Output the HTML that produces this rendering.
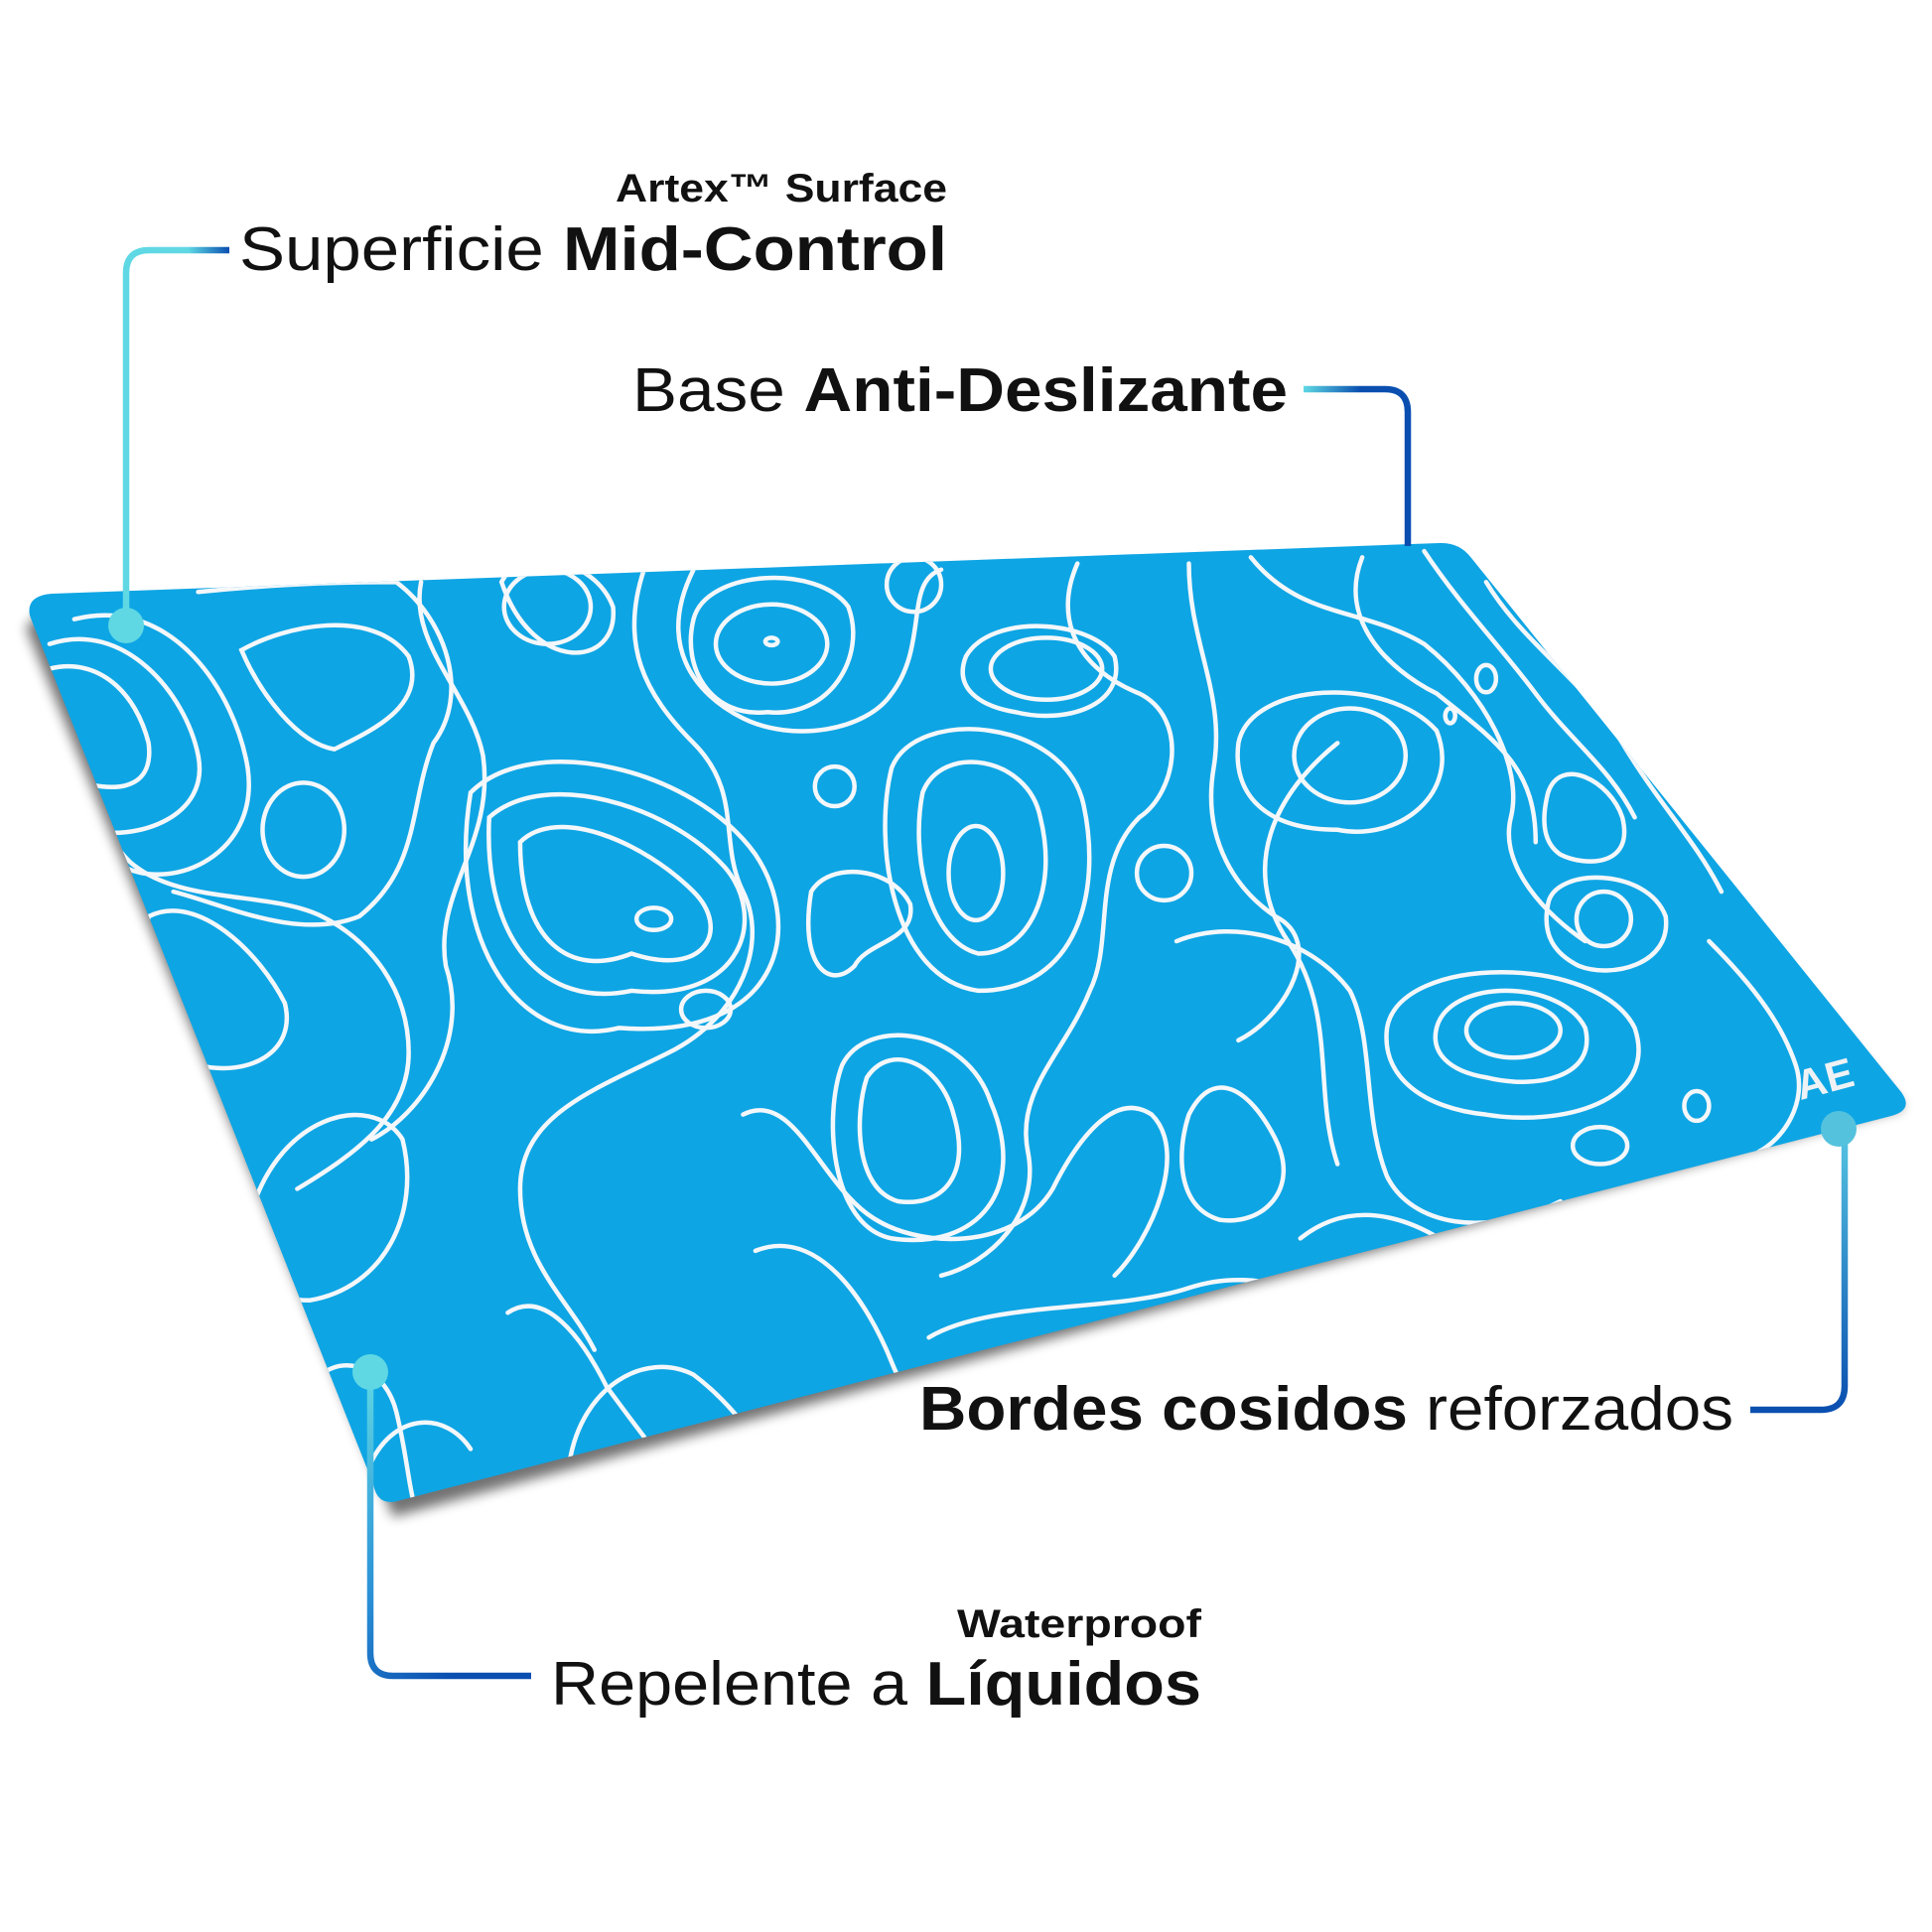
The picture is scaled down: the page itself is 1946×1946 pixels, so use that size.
<!DOCTYPE html>
<html><head><meta charset="utf-8"><style>
html,body{margin:0;padding:0;background:#fff;}
svg{display:block;}
text{font-family:"Liberation Sans",sans-serif;fill:#111;}
</style></head><body>
<svg width="1946" height="1946" viewBox="0 0 1946 1946" xmlns="http://www.w3.org/2000/svg">
<defs>
<linearGradient id="g1" x1="0" y1="1" x2="1" y2="0"><stop offset="0" stop-color="#5fd8e4"/><stop offset="0.8" stop-color="#5fd8e4"/><stop offset="1" stop-color="#0a4fb0"/></linearGradient>
<linearGradient id="g2" x1="0" y1="0" x2="1" y2="0.3"><stop offset="0" stop-color="#5fd8e4"/><stop offset="0.5" stop-color="#0a4fb0"/><stop offset="1" stop-color="#0a4fb0"/></linearGradient>
<linearGradient id="g3" x1="0" y1="0" x2="0" y2="1"><stop offset="0" stop-color="#55c6e2"/><stop offset="1" stop-color="#0a4fb0"/></linearGradient>
<linearGradient id="g4" x1="0" y1="0" x2="0.5" y2="1"><stop offset="0" stop-color="#5fd8e4"/><stop offset="0.6" stop-color="#2a8fd6"/><stop offset="1" stop-color="#0a4fb0"/></linearGradient>
<clipPath id="mat"><path d="M52,598 L1450,547 Q1470,546 1482,562 L1915,1100 Q1928,1118 1905,1124 L400,1512 Q380,1517 376,1495 L30,620 Q26,600 52,598Z"/></clipPath>
<filter id="sh" x="-5%" y="-5%" width="110%" height="115%"><feGaussianBlur stdDeviation="6"/></filter>
</defs>
<!-- shadow -->
<path d="M52,604 L1450,553 L1922,1110 L400,1522 L30,626Z" fill="#000" opacity="0.55" filter="url(#sh)" transform="translate(-4,6)"/>
<path d="M52,598 L1450,547 Q1470,546 1482,562 L1915,1100 Q1928,1118 1905,1124 L400,1512 Q380,1517 376,1495 L30,620 Q26,600 52,598Z" fill="#0ea5e4"/>
<g clip-path="url(#mat)" fill="none" stroke="#f4f7fa" stroke-width="3.6" stroke-linecap="round">
<g transform="scale(1.2474)">
<path d="M195,525 C230,505 300,490 330,530 C345,570 300,590 270,605 C240,600 210,560 195,525Z"/>
<ellipse cx="245" cy="670" rx="33" ry="38"/>
<path d="M420,680 C450,650 520,680 560,720 C590,750 570,790 510,770 C460,790 420,760 420,680Z"/>
<path d="M395,660 C440,620 540,650 585,700 C620,740 600,810 510,800 C440,815 390,760 395,660Z"/>
<path d="M380,640 C430,590 560,620 610,690 C650,750 630,840 500,830 C420,850 360,760 380,640Z"/>
<ellipse cx="528" cy="742" rx="14" ry="9"/>
<ellipse cx="442" cy="490" rx="35" ry="30"/>
<path d="M405,470 C420,440 480,450 495,490 C500,540 430,545 405,470Z"/>
<ellipse cx="623" cy="518" rx="5" ry="3"/>
<ellipse cx="623" cy="520" rx="45" ry="32"/>
<path d="M560,500 C570,460 660,455 685,490 C700,530 670,580 620,575 C575,580 550,540 560,500Z"/>
<circle cx="738" cy="472" r="22"/>
<ellipse cx="845" cy="540" rx="45" ry="25"/>
<path d="M780,530 C800,495 880,500 900,530 C910,570 860,585 820,575 C790,570 770,555 780,530Z"/>
<ellipse cx="1090" cy="610" rx="45" ry="38"/>
<path d="M1000,600 C1010,550 1120,545 1160,590 C1180,640 1130,680 1080,670 C1020,670 995,640 1000,600Z"/>
<ellipse cx="788" cy="705" rx="22" ry="38"/>
<path d="M745,640 C760,600 830,610 840,660 C855,720 830,770 790,770 C750,760 735,690 745,640Z"/>
<path d="M720,620 C740,570 860,580 875,650 C890,720 870,800 790,800 C720,790 705,680 720,620Z"/>
<circle cx="674" cy="635" r="16"/>
<path d="M655,720 C670,695 720,700 735,730 C740,760 700,760 690,780 C670,800 645,780 655,720Z"/>
<circle cx="940" cy="705" r="22"/>
<path d="M700,870 C720,840 760,860 770,900 C785,950 760,975 725,970 C690,960 690,900 700,870Z"/>
<path d="M680,860 C700,820 780,830 800,890 C830,960 790,1010 720,1000 C670,990 665,900 680,860Z"/>
<path d="M960,900 C980,860 1010,880 1030,920 C1050,960 1020,990 985,985 C950,975 950,930 960,900Z"/>
<ellipse cx="1222" cy="832" rx="38" ry="22"/>
<path d="M1160,830 C1170,790 1260,790 1280,830 C1290,870 1240,880 1200,870 C1170,865 1155,850 1160,830Z"/>
<path d="M1120,830 C1130,770 1290,770 1320,830 C1340,890 1260,910 1200,900 C1150,895 1115,870 1120,830Z"/>
<circle cx="1295" cy="742" r="22"/>
<path d="M1250,730 C1255,700 1330,700 1345,740 C1350,780 1300,790 1275,780 C1255,770 1245,755 1250,730Z"/>
<path d="M1250,640 C1260,610 1300,630 1310,660 C1320,700 1280,700 1260,690 C1245,680 1245,660 1250,640Z"/>
<ellipse cx="570" cy="815" rx="20" ry="15"/>
<ellipse cx="1292" cy="925" rx="22" ry="15"/>
<ellipse cx="1370" cy="893" rx="10" ry="12"/>
<ellipse cx="1200" cy="548" rx="8" ry="11"/>
<ellipse cx="1171" cy="578" rx="4" ry="6"/>
<path d="M200,990 C220,900 300,880 325,920 C340,980 310,1040 250,1050 C205,1050 195,1020 200,990Z"/>
<path d="M120,740 C160,720 210,770 230,810 C240,850 200,870 160,860 C120,850 110,780 120,740Z"/>
<path d="M40,540 C80,530 110,560 120,600 C125,640 90,640 60,630"/>
<path d="M40,520 C100,500 150,560 160,610 C170,660 110,680 70,670"/>
<path d="M60,500 C140,480 190,560 200,620 C210,690 140,720 100,700"/>
<path d="M160,478 C240,470 290,470 320,470 C360,500 380,560 350,600 C330,650 340,700 290,740 C240,760 180,730 140,720"/>
<path d="M340,470 C330,520 380,560 390,610 C400,680 350,720 360,780 C380,840 340,900 300,920"/>
<path d="M520,460 C500,520 520,560 560,600 C600,640 580,680 600,720 C620,760 600,820 540,850 C480,880 420,900 420,960 C420,1020 460,1050 480,1090"/>
<path d="M560,460 C530,520 560,560 600,580 C640,600 700,590 720,560 C750,520 730,470 760,460"/>
<path d="M870,455 C850,500 870,540 920,560 C960,580 950,640 920,660 C880,700 900,760 880,800 C860,850 820,880 830,930 C840,980 800,1020 760,1030"/>
<path d="M960,455 C960,520 990,560 980,620 C970,680 1000,720 1030,740 C1070,760 1040,820 1000,840"/>
<path d="M1010,450 C1050,500 1100,490 1150,520 C1200,560 1230,620 1220,660 C1210,700 1250,740 1280,760"/>
<path d="M1100,450 C1080,500 1120,540 1160,560 C1210,600 1240,620 1240,680"/>
<path d="M1150,445 C1180,490 1210,520 1240,560 C1270,600 1300,620 1320,660"/>
<path d="M1200,470 C1230,520 1280,550 1310,600 C1340,650 1370,680 1390,720"/>
<path d="M950,760 C1000,740 1060,760 1090,800 C1110,840 1100,900 1120,950 C1140,990 1200,1000 1260,970"/>
<path d="M600,900 C640,880 660,950 700,980 C740,1010 820,1010 850,960 C870,920 900,880 930,900 C960,930 930,1000 900,1030"/>
<path d="M610,1010 C660,990 700,1050 720,1100 C740,1150 780,1180 820,1180"/>
<path d="M410,1060 C440,1040 470,1080 490,1120 C520,1160 540,1190 560,1200"/>
<path d="M460,1180 C470,1120 520,1090 560,1110 C600,1140 620,1180 640,1200"/>
<path d="M250,1120 C270,1090 310,1100 320,1140 C330,1180 330,1210 340,1230"/>
<path d="M200,1000 C150,1050 160,1100 200,1130"/>
<path d="M30,560 C60,600 80,680 110,700 C150,730 220,720 260,740 C300,760 330,800 330,850 C330,900 290,930 240,960"/>
<path d="M750,1080 C800,1050 900,1060 960,1040 C1020,1020 1080,1050 1100,1080"/>
<path d="M1050,1000 C1100,960 1160,990 1200,1030 C1240,1060 1300,1040 1320,1020"/>
<path d="M1380,760 C1420,800 1440,830 1450,860 C1460,890 1440,920 1420,930"/>
<path d="M1260,980 C1290,960 1330,970 1350,990"/>
<path d="M1080,600 C1030,640 1000,700 1040,760 C1080,820 1060,880 1080,940"/>
<path d="M300,1180 C320,1140 360,1140 380,1170"/>
</g>
</g>
<!-- AE logo -->
<text x="1808" y="1103" font-size="42" font-weight="bold" fill="#eef2f5" style="fill:#eef2f5" transform="rotate(-15 1830 1085)">AE</text>
<!-- connectors -->
<g fill="none" stroke-width="6.5">
<path d="M231,252 L150,252 Q127,252 127,275 L127,628" stroke="url(#g1)"/>
<path d="M1313,392 L1395,392 Q1418,392 1418,415 L1418,550" stroke="url(#g2)"/>
<path d="M1858,1137 L1858,1396 Q1858,1420 1834,1420 L1763,1420" stroke="url(#g3)"/>
<path d="M373,1382 L373,1665 Q373,1688 396,1688 L535,1688" stroke="url(#g4)"/>
</g>
<circle cx="127" cy="630" r="18" fill="#5fd8e4"/>
<circle cx="1852" cy="1137" r="18" fill="#55c2dd"/>
<circle cx="373" cy="1382" r="18" fill="#5fd8e4"/>
<!-- labels -->
<text x="620" y="203" font-size="40" font-weight="bold" textLength="334" lengthAdjust="spacingAndGlyphs">Artex™ Surface</text>
<text x="241" y="272" font-size="62" textLength="713" lengthAdjust="spacingAndGlyphs">Superficie <tspan font-weight="bold">Mid-Control</tspan></text>
<text x="637" y="414" font-size="62" textLength="660" lengthAdjust="spacingAndGlyphs">Base <tspan font-weight="bold">Anti-Deslizante</tspan></text>
<text x="926" y="1440" font-size="62" textLength="820" lengthAdjust="spacingAndGlyphs"><tspan font-weight="bold">Bordes cosidos</tspan> reforzados</text>
<text x="964" y="1649" font-size="40" font-weight="bold" textLength="246" lengthAdjust="spacingAndGlyphs">Waterproof</text>
<text x="555" y="1717" font-size="62" textLength="655" lengthAdjust="spacingAndGlyphs">Repelente a <tspan font-weight="bold">Líquidos</tspan></text>
</svg>
</body></html>
